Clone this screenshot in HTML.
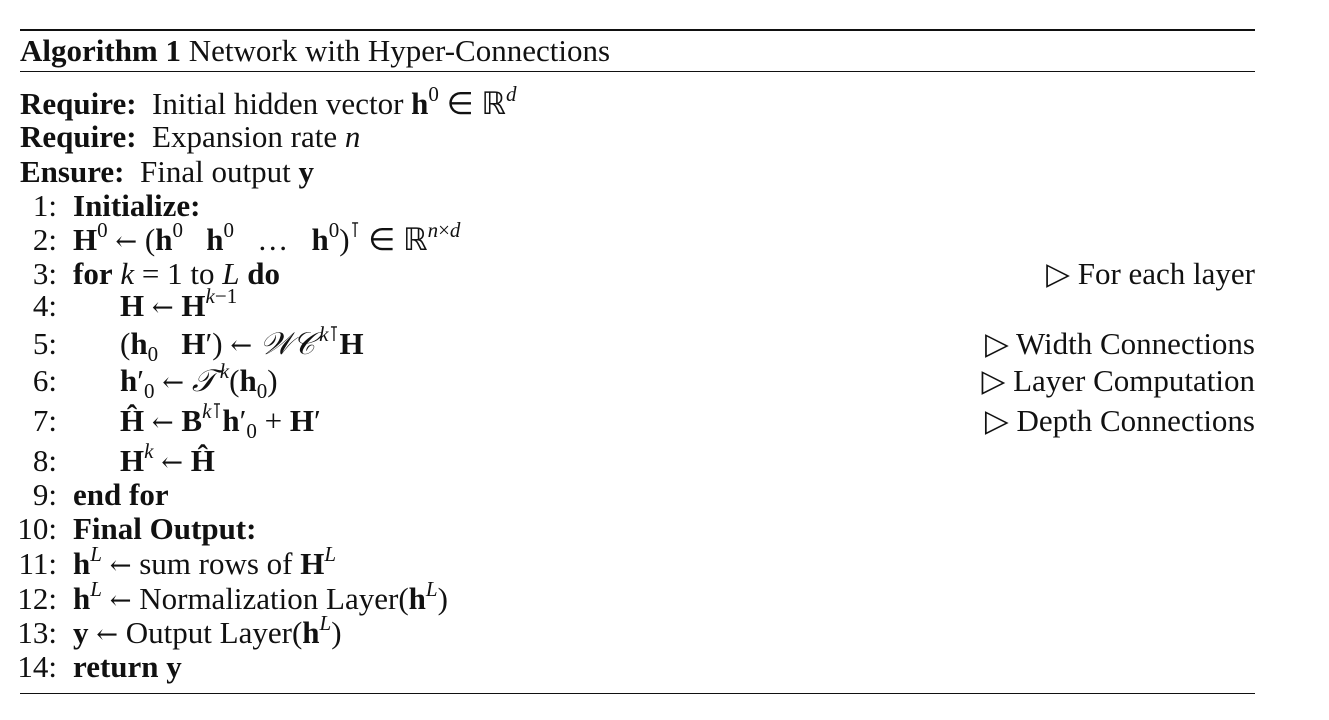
<!DOCTYPE html>
<html><head><meta charset="utf-8"><style>
html,body{margin:0;padding:0;background:#fff;}
body{width:1329px;height:720px;position:relative;overflow:hidden;font-family:"Liberation Serif",serif;color:#111;font-size:31px;}
.l{position:absolute;white-space:nowrap;line-height:30px;height:30px;}
.n{position:absolute;width:57px;text-align:right;left:0;}
.s{position:absolute;left:73px;}
.s2{position:absolute;left:120px;}
.c{position:absolute;right:74px;}
b{font-weight:bold;}
i{font-style:italic;}
.a{font-family:"DejaVu Serif",serif;font-size:26px;}
sup{font-size:21px;line-height:0;position:relative;top:-2px;}
sub{font-size:21px;line-height:0;}
.rule{position:absolute;left:20px;width:1235px;background:#111;}
</style></head><body>
<div class="rule" style="top:29px;height:2px"></div>
<div class="rule" style="top:71px;height:1px"></div>
<div class="rule" style="top:693px;height:1px"></div>
<div class="l" style="top:36px;left:20px"><b>Algorithm 1</b> Network with Hyper-Connections</div>
<div class="l" style="top:89px;left:20px"><b>Require:</b>&nbsp; Initial hidden vector <b>h</b><sup>0</sup> ∈ ℝ<sup><i>d</i></sup></div>
<div class="l" style="top:122px;left:20px"><b>Require:</b>&nbsp; Expansion rate <i>n</i></div>
<div class="l" style="top:157px;left:20px"><b>Ensure:</b>&nbsp; Final output <b>y</b></div>
<div class="l" style="top:191px;width:1329px"><span class="n">1:</span><span class="s"><b>Initialize:</b></span></div>
<div class="l" style="top:225px;width:1329px"><span class="n">2:</span><span class="s"><b>H</b><sup>0</sup> <span class="a">←</span> (<b>h</b><sup>0</sup> &nbsp; <b>h</b><sup>0</sup> &nbsp; … &nbsp; <b>h</b><sup>0</sup>)<sup>⊺</sup> ∈ ℝ<sup><i>n</i>×<i>d</i></sup></span></div>
<div class="l" style="top:259px;width:1329px"><span class="n">3:</span><span class="s"><b>for</b> <i>k</i> = 1 to <i>L</i> <b>do</b></span><span class="c">▷ For each layer</span></div>
<div class="l" style="top:291px;width:1329px"><span class="n">4:</span><span class="s2"><b>H</b> <span class="a">←</span> <b>H</b><sup><i>k</i>−1</sup></span></div>
<div class="l" style="top:329px;width:1329px"><span class="n">5:</span><span class="s2">(<b>h</b><sub>0</sub> &nbsp; <b>H</b>′) <span class="a">←</span> <i>𝒲𝒞</i><sup>&thinsp;<i>k</i>⊺</sup><b>H</b></span><span class="c">▷ Width Connections</span></div>
<div class="l" style="top:366px;width:1329px"><span class="n">6:</span><span class="s2"><b>h</b>′<sub>0</sub> <span class="a">←</span> <i>𝒯</i><sup>&thinsp;<i>k</i></sup>(<b>h</b><sub>0</sub>)</span><span class="c">▷ Layer Computation</span></div>
<div class="l" style="top:406px;width:1329px"><span class="n">7:</span><span class="s2"><b>Ĥ</b> <span class="a">←</span> <b>B</b><sup><i>k</i>⊺</sup><b>h</b>′<sub>0</sub> + <b>H</b>′</span><span class="c">▷ Depth Connections</span></div>
<div class="l" style="top:446px;width:1329px"><span class="n">8:</span><span class="s2"><b>H</b><sup><i>k</i></sup> <span class="a">←</span> <b>Ĥ</b></span></div>
<div class="l" style="top:480px;width:1329px"><span class="n">9:</span><span class="s"><b>end for</b></span></div>
<div class="l" style="top:514px;width:1329px"><span class="n">10:</span><span class="s"><b>Final Output:</b></span></div>
<div class="l" style="top:549px;width:1329px"><span class="n">11:</span><span class="s"><b>h</b><sup><i>L</i></sup> <span class="a">←</span> sum rows of <b>H</b><sup><i>L</i></sup></span></div>
<div class="l" style="top:584px;width:1329px"><span class="n">12:</span><span class="s"><b>h</b><sup><i>L</i></sup> <span class="a">←</span> Normalization Layer(<b>h</b><sup><i>L</i></sup>)</span></div>
<div class="l" style="top:618px;width:1329px"><span class="n">13:</span><span class="s"><b>y</b> <span class="a">←</span> Output Layer(<b>h</b><sup><i>L</i></sup>)</span></div>
<div class="l" style="top:652px;width:1329px"><span class="n">14:</span><span class="s"><b>return y</b></span></div>
</body></html>
